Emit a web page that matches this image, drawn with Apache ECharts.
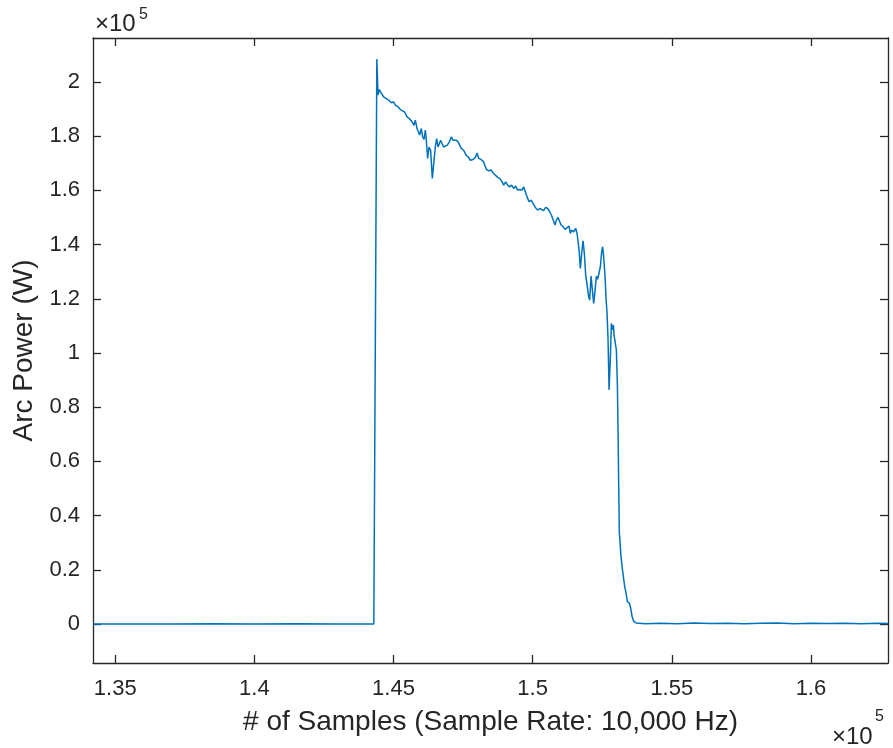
<!DOCTYPE html>
<html>
<head>
<meta charset="utf-8">
<script src="https://cdn.jsdelivr.net/npm/echarts@6/dist/echarts.min.js"></script>
<style>
html,body{margin:0;padding:0;background:#fff;}
#c{width:893px;height:748px;}
</style>
</head>
<body>
<div id="c"></div>
<script>
// Sample index (x) and arc power in W (y)
const samples = [
134200,135500,137000,138500,140000,141500,143000,144292,
144400,144443,144489,144551,144644,144730,144824,144921,145004,145065,145162,145244,145327,145399,145485,145568,145665,145737,145784,145845,145902,145938,145999,146046,146096,146143,146179,146226,146276,146333,146395,146456,146502,146549,146600,146646,146693,146743,146801,146862,146934,147006,147078,147139,147196,147246,147318,147376,147437,147520,147606,147678,147760,147857,147940,148001,148059,148145,148239,148336,148418,148505,148576,148659,148742,148814,148900,148958,149029,149101,149173,149245,149317,149389,149461,149533,149619,149676,149737,149798,149870,149942,150014,150097,150180,150252,150323,150395,150467,150539,150611,150672,150733,150805,150852,150913,150970,151021,151093,151165,151236,151308,151355,151402,151474,151546,151596,151668,151714,151761,151811,151858,151905,151955,152013,152049,152099,152146,152193,152243,152290,152336,152387,152433,152480,152516,152552,152602,152638,152674,152710,152746,152793,152829,152865,152901,152926,152973,153008,153044,153070,153091,153116,153141,153163,153213,153260,153307,153357,153404,153476,153522,153572,153631,153716,154051,
154600,155200,155800,156400,157000,157600,158200,158800,159400,160000,160600,161200,161800,162400,162770
];
const power = [
0,60,20,80,30,70,40,0,
208400,195100,197200,196000,194500,193900,193300,192300,192600,191400,190800,189800,189300,188900,187100,186500,185300,184000,185900,182800,182200,180400,182800,179700,178800,182200,178500,171800,176000,174800,164400,171100,176000,179100,176000,175500,178500,177300,176000,176300,176700,177900,179700,178500,177900,178500,177900,177300,175500,174800,173000,172400,171100,171400,172100,173800,171800,171400,170500,167700,167200,167500,166500,165600,164800,164400,163100,161900,163100,161900,161300,161900,160700,161600,160100,160300,160100,161300,159500,157600,155800,156400,155200,153700,152700,153300,152700,152500,153700,153300,152100,150900,150200,147200,149000,150000,149300,147200,146600,145600,145300,146800,144100,145300,144700,146000,144100,138000,131200,136700,141400,136700,128800,125100,120800,119500,128400,123200,118300,123200,128400,127200,127900,131800,137300,139200,135500,128100,119800,114600,104800,86400,98600,110900,108500,110300,106600,107300,101100,88800,70400,52000,33500,30400,26200,21200,17500,13900,11400,8300,7700,5900,2800,1000,400,100,
300,150,350,200,300,100,250,350,150,300,200,250,150,300,200
];
const xTicks = [135000,140000,145000,150000,155000,160000];
const yTicks = [0,20000,40000,60000,80000,100000,120000,140000,160000,180000,200000];
const xName = '# of Samples (Sample Rate: 10,000 Hz)';
const yName = 'Arc Power (W)';
const expBase = '×10';
const expPow = '5';

const X_MIN = 134200, X_MAX = 162770, Y_MIN = -14370, Y_MAX = 216200;
const FONT = '"Liberation Sans", Arial, Helvetica, sans-serif';
const INK = '#262626';

const chart = echarts.init(document.getElementById('c'), null, {renderer: 'canvas'});
const fmt = (v, d) => String(parseFloat((v / 1e5).toFixed(d)));

const axisLine = {show: true, onZero: false, lineStyle: {color: INK, width: 1.3}};
const tick = (vals) => ({show: true, inside: true, length: 8, customValues: vals, lineStyle: {color: INK, width: 1.3}});
const txt = (s, size, left, top) => ({
  type: 'text', left: left, top: top,
  style: {text: s, fontFamily: FONT, fontSize: size, fill: INK}
});

chart.setOption({
  animation: false,
  backgroundColor: '#fff',
  grid: {left: 93, right: 5, top: 38, bottom: 85, containLabel: false},
  xAxis: [{
    type: 'value', min: X_MIN, max: X_MAX, position: 'bottom',
    axisLine: axisLine, axisTick: tick(xTicks), splitLine: {show: false},
    axisLabel: {customValues: xTicks, formatter: v => fmt(v, 2), color: INK, fontFamily: FONT, fontSize: 22, margin: 15},
    name: xName, nameLocation: 'middle', nameGap: 45,
    nameTextStyle: {color: INK, fontFamily: FONT, fontSize: 28}
  }, {
    type: 'value', min: X_MIN, max: X_MAX, position: 'top',
    axisLine: axisLine, axisTick: tick(xTicks), splitLine: {show: false},
    axisLabel: {show: false}
  }],
  yAxis: [{
    type: 'value', min: Y_MIN, max: Y_MAX, position: 'left',
    axisLine: axisLine, axisTick: tick(yTicks), splitLine: {show: false},
    axisLabel: {customValues: yTicks, formatter: v => fmt(v, 1), color: INK, fontFamily: FONT, fontSize: 22, margin: 13},
    name: yName, nameLocation: 'middle', nameGap: 52,
    nameTextStyle: {color: INK, fontFamily: FONT, fontSize: 28}
  }, {
    type: 'value', min: Y_MIN, max: Y_MAX, position: 'right',
    axisLine: axisLine, axisTick: tick(yTicks), splitLine: {show: false},
    axisLabel: {show: false}
  }],
  graphic: [
    txt(expBase, 24, 95, 12), txt(expPow, 16, 139, 7),
    txt(expBase, 24, 832, 725), txt(expPow, 16, 875, 709)
  ],
  series: [{
    type: 'line', showSymbol: false, symbol: 'none',
    data: samples.map((s, i) => [s, power[i]]),
    lineStyle: {color: '#0072BD', width: 1.5},
    itemStyle: {color: '#0072BD'}
  }]
});
</script>
</body>
</html>
